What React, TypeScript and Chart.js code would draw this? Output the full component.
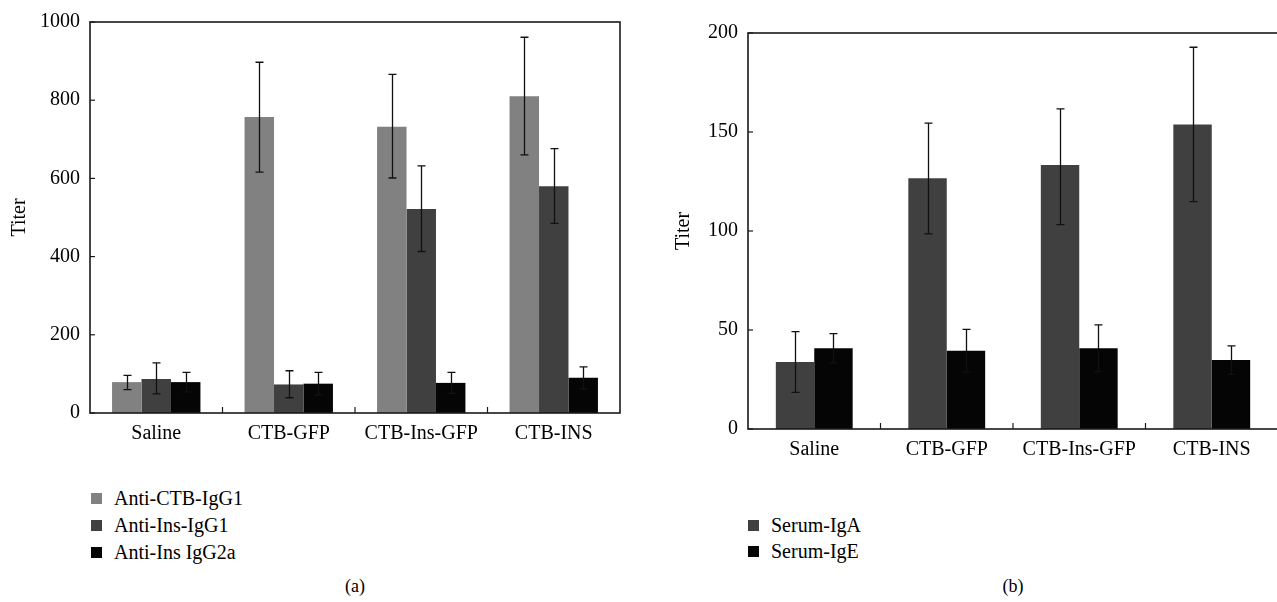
import React, { useEffect, useRef } from "react";
import { Chart, registerables } from "chart.js";

Chart.register(...registerables);

// ---------- data ----------
const categories = ["Saline", "CTB-GFP", "CTB-Ins-GFP", "CTB-INS"];

// Panel (a)
const antiCtbIgG1 = [79, 757, 732, 810];
const antiCtbIgG1Hi = [96, 897, 866, 961];
const antiCtbIgG1Lo = [60, 616, 601, 660];
const antiInsIgG1 = [87, 73, 522, 580];
const antiInsIgG1Hi = [128, 108, 632, 676];
const antiInsIgG1Lo = [49, 39, 413, 485];
const antiInsIgG2a = [79, 75, 77, 90];
const antiInsIgG2aHi = [104, 104, 104, 118];
const antiInsIgG2aLo = [54, 46, 50, 62];
const leftTicks = [0, 200, 400, 600, 800, 1000];

// Panel (b)
const serumIgA = [33.9, 126.6, 133.3, 153.8];
const serumIgAHi = [49.2, 154.5, 161.7, 192.8];
const serumIgALo = [18.5, 98.5, 103.2, 114.8];
const serumIgE = [40.8, 39.5, 40.8, 34.8];
const serumIgEHi = [48.2, 50.3, 52.6, 42.0];
const serumIgELo = [33.4, 28.7, 29.0, 27.6];
const rightTicks = [0, 50, 100, 150, 200];

const FONT = "'Liberation Serif', 'Times New Roman', serif";
const FS = 20;
const C1 = "#818181";
const C2 = "#404040";
const C3 = "#050505";

const framePlugin = {
  id: "frameAndErrors",
  afterDatasetsDraw(chart: any) {
    const { ctx, chartArea: a, scales } = chart;
    const xs = scales.x;
    const ys = scales.y;
    ctx.save();
    // error bars
    ctx.strokeStyle = "#111";
    ctx.lineWidth = 1.3;
    chart.data.datasets.forEach((ds: any, i: number) => {
      const meta = chart.getDatasetMeta(i);
      meta.data.forEach((bar: any, j: number) => {
        const hi = ys.getPixelForValue(ds.errHi[j]);
        const lo = ys.getPixelForValue(ds.errLo[j]);
        const bx = Math.round(bar.x) + 0.5;
        ctx.beginPath();
        ctx.moveTo(bx, hi);
        ctx.lineTo(bx, lo);
        ctx.moveTo(bx - 4, hi);
        ctx.lineTo(bx + 4, hi);
        ctx.moveTo(bx - 4, lo);
        ctx.lineTo(bx + 4, lo);
        ctx.stroke();
      });
    });
    // frame
    ctx.strokeStyle = "#1a1a1a";
    ctx.lineWidth = 1.6;
    ctx.strokeRect(a.left, a.top, a.right - a.left, a.bottom - a.top);
    // inward y ticks
    ctx.lineWidth = 1.2;
    ys.ticks.forEach((t: any) => {
      const py = ys.getPixelForValue(t.value);
      ctx.beginPath();
      ctx.moveTo(a.left, py);
      ctx.lineTo(a.left + 5, py);
      ctx.stroke();
    });
    // inward x ticks between categories
    for (let k = 1; k < chart.data.labels.length; k++) {
      const px = (xs.getPixelForValue(k - 1) + xs.getPixelForValue(k)) / 2;
      ctx.beginPath();
      ctx.moveTo(px, a.bottom);
      ctx.lineTo(px, a.bottom - 6);
      ctx.stroke();
    }
    ctx.restore();
  },
};

function makeOptions(opts: {
  ticks: number[];
  yWidth: number;
  top: number;
  right: number;
  xHeight: number;
  titlePad: number;
  catPct: number;
}) {
  return {
    responsive: false,
    animation: false as const,
    devicePixelRatio: 1,
    layout: { padding: { top: opts.top, right: opts.right, left: 0, bottom: 0 } },
    plugins: { legend: { display: false }, tooltip: { enabled: false } },
    datasets: { bar: { categoryPercentage: opts.catPct, barPercentage: 1 } },
    scales: {
      x: {
        type: "category" as const,
        offset: true,
        grid: { display: false, drawTicks: false },
        border: { display: false },
        ticks: { color: "#000", font: { family: FONT, size: FS }, padding: 9, maxRotation: 0 },
        afterFit: (s: any) => {
          s.height = opts.xHeight;
        },
      },
      y: {
        type: "linear" as const,
        min: opts.ticks[0],
        max: opts.ticks[opts.ticks.length - 1],
        grid: { display: false, drawTicks: false },
        border: { display: false },
        ticks: {
          color: "#000",
          font: { family: FONT, size: FS },
          padding: 10,
          callback: (v: any) => String(v),
        },
        afterBuildTicks: (s: any) => {
          s.ticks = opts.ticks.map((v) => ({ value: v }));
        },
        afterFit: (s: any) => {
          s.width = opts.yWidth;
        },
        title: {
          display: true,
          text: "Titer",
          color: "#000",
          font: { family: FONT, size: FS },
          padding: { top: opts.titlePad, bottom: 0 },
        },
      },
    },
  };
}

function LegendRow(props: { color: string; label: string; left: number; cy: number }) {
  return (
    <div
      style={{
        position: "absolute",
        left: props.left,
        top: props.cy - 12,
        height: 24,
        display: "flex",
        alignItems: "center",
        fontFamily: FONT,
        fontSize: FS,
        color: "#000",
        whiteSpace: "nowrap",
      }}
    >
      <span style={{ display: "inline-block", width: 11, height: 11, background: props.color, marginRight: 12 }} />
      <span>{props.label}</span>
    </div>
  );
}

export default function App() {
  const leftRef = useRef<HTMLCanvasElement>(null);
  const rightRef = useRef<HTMLCanvasElement>(null);

  useEffect(() => {
    const left = new Chart(leftRef.current!, {
      type: "bar",
      data: {
        labels: categories,
        datasets: [
          { label: "Anti-CTB-IgG1", data: antiCtbIgG1, backgroundColor: C1, errHi: antiCtbIgG1Hi, errLo: antiCtbIgG1Lo } as any,
          { label: "Anti-Ins-IgG1", data: antiInsIgG1, backgroundColor: C2, errHi: antiInsIgG1Hi, errLo: antiInsIgG1Lo } as any,
          { label: "Anti-Ins IgG2a", data: antiInsIgG2a, backgroundColor: C3, errHi: antiInsIgG2aHi, errLo: antiInsIgG2aLo } as any,
        ],
      },
      options: makeOptions({ ticks: leftTicks, yWidth: 90, top: 16, right: 20, xHeight: 67, titlePad: 8, catPct: 0.667 }) as any,
      plugins: [framePlugin],
    });
    const right = new Chart(rightRef.current!, {
      type: "bar",
      data: {
        labels: categories,
        datasets: [
          { label: "Serum-IgA", data: serumIgA, backgroundColor: C2, errHi: serumIgAHi, errLo: serumIgALo } as any,
          { label: "Serum-IgE", data: serumIgE, backgroundColor: C3, errHi: serumIgEHi, errLo: serumIgELo } as any,
        ],
      },
      options: makeOptions({ ticks: rightTicks, yWidth: 108, top: 33, right: 2, xHeight: 51, titlePad: 32, catPct: 0.58 }) as any,
      plugins: [framePlugin],
    });
    return () => {
      left.destroy();
      right.destroy();
    };
  }, []);

  return (
    <div
      style={{
        position: "fixed",
        left: 0,
        top: 0,
        width: 1277,
        height: 602,
        overflow: "hidden",
        background: "#fff",
      }}
    >
      <canvas ref={leftRef} width={640} height={480} style={{ position: "absolute", left: 0, top: 0, width: 640, height: 480 }} />
      <canvas ref={rightRef} width={640} height={480} style={{ position: "absolute", left: 640, top: 0, width: 640, height: 480 }} />

      <LegendRow color={C1} label="Anti-CTB-IgG1" left={91} cy={498} />
      <LegendRow color={C2} label="Anti-Ins-IgG1" left={91} cy={525} />
      <LegendRow color={C3} label="Anti-Ins IgG2a" left={91} cy={552} />

      <LegendRow color={C2} label="Serum-IgA" left={748} cy={525} />
      <LegendRow color={C3} label="Serum-IgE" left={748} cy={551} />

      <div style={{ position: "absolute", left: 305, width: 100, top: 576, textAlign: "center", fontFamily: FONT, fontSize: 18 }}>(a)</div>
      <div style={{ position: "absolute", left: 963, width: 100, top: 576, textAlign: "center", fontFamily: FONT, fontSize: 18 }}>(b)</div>
    </div>
  );
}
